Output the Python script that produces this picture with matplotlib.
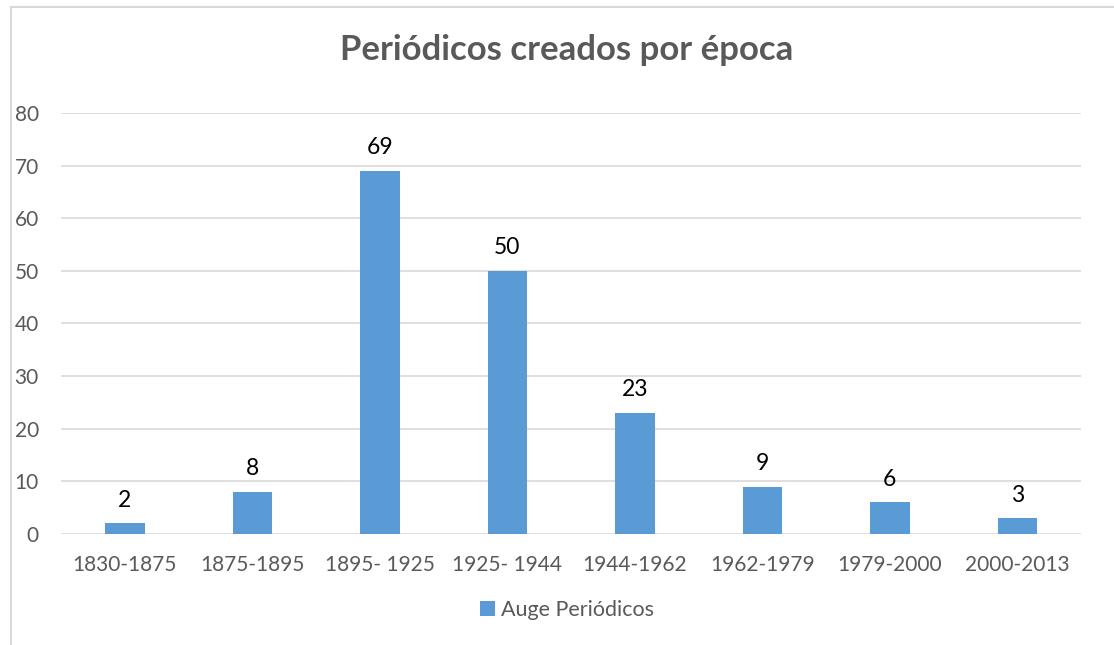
import matplotlib.pyplot as plt
from matplotlib.lines import Line2D

epocas = ["1830-1875", "1875-1895", "1895- 1925", "1925- 1944",
          "1944-1962", "1962-1979", "1979-2000", "2000-2013"]
periodicos = [2, 8, 69, 50, 23, 9, 6, 3]

plt.rcParams['font.family'] = ['Lato', 'DejaVu Sans']

fig = plt.figure(figsize=(11.14, 6.45), dpi=100)
ax = fig.add_axes([0.0548, 0.1721, 0.9156, 0.6527])

x = range(len(epocas))
bars = ax.bar(x, periodicos, width=0.31, color='#5B9BD5', zorder=3,
              label='Auge Periódicos')

for b, v in zip(bars, periodicos):
    ax.annotate(str(v), (b.get_x() + b.get_width() / 2, v),
                xytext=(0, 9), textcoords='offset points',
                ha='center', va='bottom', fontsize=16.5, color='black')

ax.set_xlim(-0.5, len(epocas) - 0.5)
ax.set_ylim(0, 80)
ax.set_yticks(range(0, 81, 10))
ax.set_xticks(list(x))
ax.set_xticklabels(epocas)
ax.grid(axis='y', color='#D9D9D9', linewidth=1.2, zorder=0)
ax.tick_params(axis='both', length=0, labelsize=15, colors='#595959')
ax.tick_params(axis='x', pad=15)
ax.tick_params(axis='y', pad=16)
for s in ax.spines.values():
    s.set_visible(False)

fig.text(0.509, 0.922, 'Periódicos creados por época', ha='center', va='center',
         fontsize=25, fontweight='bold', color='#595959')

fig.legend(loc='center', bbox_to_anchor=(0.509, 0.054), frameon=False,
           fontsize=15.5, handlelength=0.7, handleheight=0.7, handletextpad=0.3,
           labelcolor='#595959')

# light outer frame (only left and top edges are inside the picture)
x0 = 11 / 1114
y0 = 1 - 7 / 645
fig.add_artist(Line2D([x0, x0], [0, y0], transform=fig.transFigure,
                      color='#D9D9D9', linewidth=1.5))
fig.add_artist(Line2D([x0, 1], [y0, y0], transform=fig.transFigure,
                      color='#D9D9D9', linewidth=1.5))

fig.savefig('out.png', dpi=100)
